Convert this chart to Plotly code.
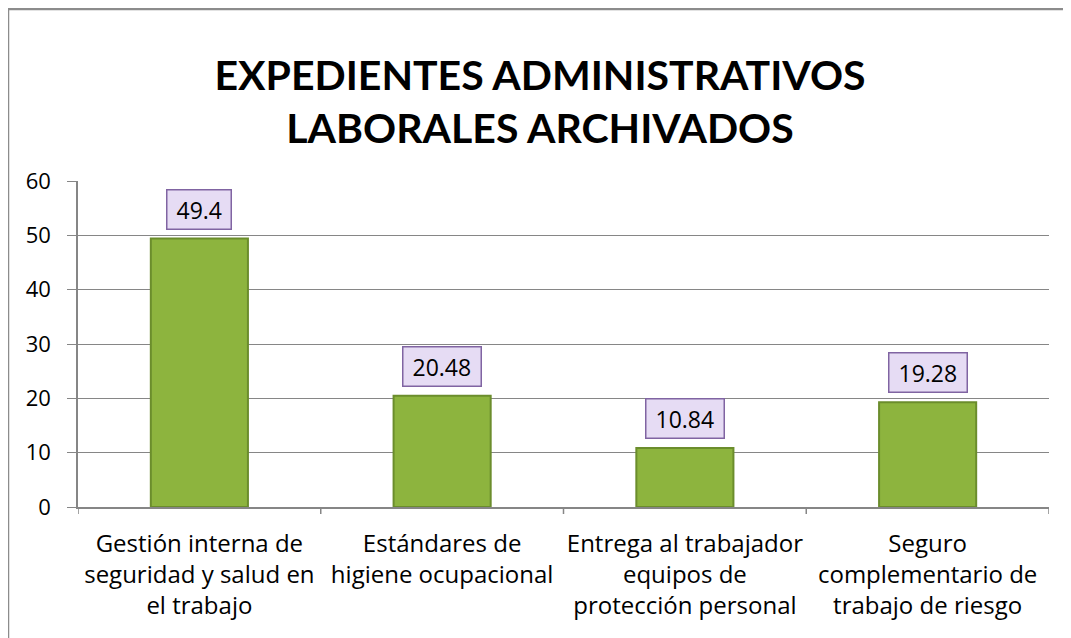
import plotly.graph_objects as go

categories = [
    "Gestión interna de<br>seguridad y salud en<br>el trabajo",
    "Estándares de<br>higiene ocupacional",
    "Entrega al trabajador<br>equipos de<br>protección personal",
    "Seguro<br>complementario de<br>trabajo de riesgo",
]
values = [49.4, 20.48, 10.84, 19.28]
value_labels = ["49.4", "20.48", "10.84", "19.28"]
y_ticks = [0, 10, 20, 30, 40, 50, 60]
title_text = "EXPEDIENTES ADMINISTRATIVOS<br>LABORALES ARCHIVADOS"

FONT = "Open Sans"
W, H = 1071, 638
L, R, T, B = 70, 30, 173, 139
PW, PH = W - L - R, H - T - B

fig = go.Figure()
fig.add_trace(go.Bar(
    x=list(range(len(categories))), y=values, width=0.40,
    marker=dict(color="#8db43e", line=dict(color="#6b8d2c", width=2)),
    showlegend=False, hoverinfo="skip",
))

NB = "\u00a0"
for i, (v, lab) in enumerate(zip(values, value_labels)):
    fig.add_annotation(
        x=i, y=v, text=NB + lab + NB, showarrow=False, yanchor="bottom", yshift=9,
        font=dict(family=FONT, size=23, color="#000000"),
        bgcolor="#e6dcf4", bordercolor="#8064a2", borderwidth=1.5, borderpad=3,
    )

fig.update_layout(
    width=W, height=H,
    margin=dict(l=L, r=R, t=T, b=B),
    paper_bgcolor="white", plot_bgcolor="white",
    title=dict(text=title_text, x=(540 - 8) / W, xanchor="center",
               y=1 - 82 / H, yref="container", yanchor="middle",
               font=dict(family="Lato", size=41, color="#000000", weight="bold")),
    font=dict(family=FONT, size=22, color="#000000"),
    xaxis=dict(
        range=[-0.5, len(categories) - 0.5],
        tickmode="array", tickvals=list(range(len(categories))), ticktext=categories,
        showgrid=False, showline=True, linecolor="#868686", linewidth=1.5,
        ticks="", zeroline=False, fixedrange=True,
        tickfont=dict(family=FONT, size=24), ticklabelstandoff=14,
    ),
    yaxis=dict(
        range=[0, 60], tickvals=y_ticks, showgrid=True, gridcolor="#868686", gridwidth=1,
        showline=True, linecolor="#868686", linewidth=1.5,
        ticks="outside", ticklen=9, tickcolor="#868686",
        zeroline=False, tickfont=dict(family=FONT, size=22), ticklabelstandoff=12,
    ),
)

# category boundary tick marks on x axis
for b in [-0.5, 0.5, 1.5, 2.5, 3.5]:
    fig.add_shape(type="line", xref="x", yref="paper", x0=b, x1=b, y0=0, y1=-7 / PH,
                  line=dict(color="#868686", width=1.5))

# outer chart border (left and top visible)
bx = (0 - L) / PW
by = (H - B - 1) / PH
fig.add_shape(type="line", xref="paper", yref="paper",
              x0=bx, x1=bx, y0=-(B + 20) / PH, y1=by,
              line=dict(color="#8c8c8c", width=2.5))
fig.add_shape(type="line", xref="paper", yref="paper",
              x0=bx, x1=(W + 40 - L) / PW, y0=by, y1=by,
              line=dict(color="#8c8c8c", width=2.5))

fig.write_html("out.html")
